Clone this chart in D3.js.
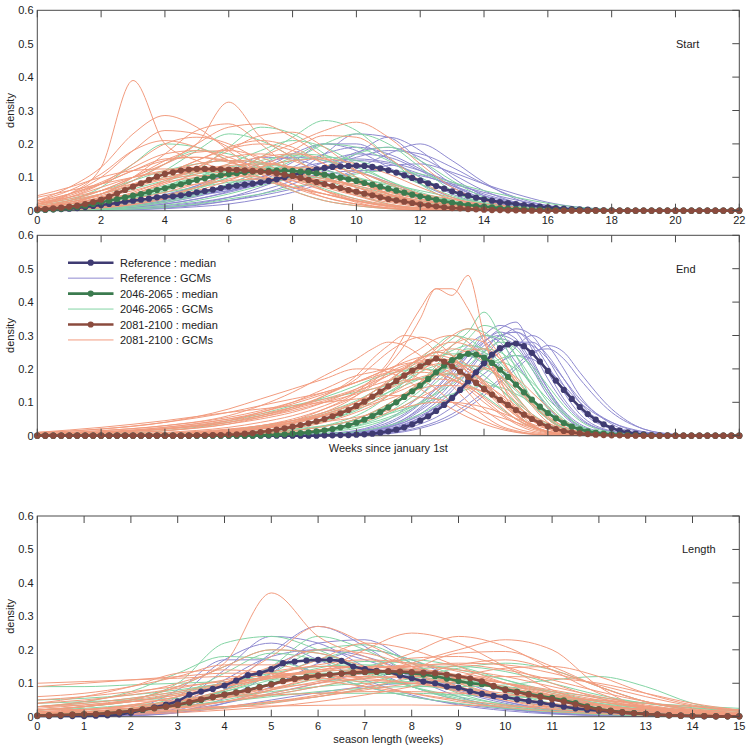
<!DOCTYPE html>
<html><head><meta charset="utf-8">
<script src="https://cdn.jsdelivr.net/npm/d3@7"></script>
<style>
body{margin:0;background:#fff}
svg{display:block}
text{font-family:"Liberation Sans",Arial,sans-serif;fill:#222}
</style>
</head><body>
<svg id="chart" width="750" height="748"></svg>
<script>
// ---------------- DATA ----------------
const yTicks = [0, 0.1, 0.2, 0.3, 0.4, 0.5, 0.6];
const yTickLabels = ["0", "0.1", "0.2", "0.3", "0.4", "0.5", "0.6"];
const startXTicks = [0, 2, 4, 6, 8, 10, 12, 14, 16, 18, 20, 22];
const lengthXTicks = [0, 1, 2, 3, 4, 5, 6, 7, 8, 9, 10, 11, 12, 13, 14, 15];
const seriesNames = ["Reference : median", "Reference : GCMs", "2046-2065 : median", "2046-2065 : GCMs", "2081-2100 : median", "2081-2100 : GCMs"];
const panelTitles = ["Start", "End", "Length"];
const medianStep = 0.25;

// GCM sample grids (weeks)
const gridStart = [0,1,2,3,4,5,6,7,8,9,10,11,12,13,14,15,16,17,18,19,20,21];
const gridEnd = [0,2,4,6,7,8,9,10,10.5,11,11.5,12,12.5,13,13.5,14,14.5,15,15.5,16,16.5,17,18,19,20,22];
const gridLength = [0,1,2,3,4,5,6,7,8,9,10,11,12,13,14,15];

// ---- Start: medians (every 0.25 week, 0..22)
const startRefMedian = [
0.002,0.003,0.004,0.005, 0.006,0.008,0.011,0.014, 0.017,0.02,0.023,0.027, 0.03,0.033,0.036,0.04,
0.042,0.043,0.046,0.05, 0.055,0.059,0.063,0.068, 0.072,0.075,0.078,0.081, 0.085,0.089,0.094,0.1,
0.106,0.113,0.119,0.124, 0.128,0.131,0.133,0.134, 0.135,0.134,0.131,0.127, 0.121,0.114,0.106,0.098,
0.09,0.082,0.074,0.066, 0.058,0.051,0.045,0.039, 0.034,0.03,0.026,0.023, 0.02,0.017,0.014,0.012,
0.01,0.008,0.006,0.005, 0.004,0.003,0.002,0.001, 0.001,0,0,0, 0,0,0,0, 0,0,0,0, 0,0,0,0, 0];
const startMidMedian = [
0.002,0.003,0.004,0.006, 0.008,0.011,0.015,0.02, 0.025,0.03,0.035,0.04, 0.045,0.05,0.056,0.062,
0.067,0.073,0.079,0.086, 0.092,0.097,0.102,0.106, 0.11,0.112,0.115,0.117, 0.118,0.119,0.12,0.12,
0.119,0.117,0.115,0.112, 0.108,0.104,0.099,0.094, 0.089,0.083,0.078,0.072, 0.066,0.06,0.054,0.048,
0.043,0.038,0.033,0.028, 0.024,0.02,0.017,0.014, 0.012,0.01,0.008,0.006, 0.005,0.004,0.003,0.003,
0.002,0.002,0.001,0.001, 0.001,0,0,0, 0,0,0,0, 0,0,0,0, 0,0,0,0, 0,0,0,0, 0];
const startEndMedian = [
0.004,0.005,0.007,0.009, 0.012,0.015,0.02,0.026, 0.033,0.042,0.052,0.062, 0.072,0.082,0.092,0.102,
0.11,0.115,0.12,0.123, 0.125,0.125,0.125,0.124, 0.123,0.122,0.121,0.119, 0.117,0.115,0.112,0.108,
0.104,0.098,0.092,0.086, 0.08,0.074,0.068,0.062, 0.057,0.051,0.046,0.04, 0.035,0.031,0.027,0.023,
0.019,0.016,0.013,0.01, 0.008,0.007,0.005,0.004, 0.003,0.002,0.002,0.001, 0.001,0,0,0,
0,0,0,0, 0,0,0,0, 0,0,0,0, 0,0,0,0, 0,0,0,0, 0,0,0,0, 0];

// ---- Start: GCMs (on gridStart)
const startRefGCMs = [
[0,0,0.002,0.006,0.012,0.022,0.04,0.07,0.11,0.17,0.23,0.22,0.15,0.08,0.035,0.012,0.003,0],
[0,0,0.002,0.004,0.008,0.016,0.03,0.05,0.08,0.12,0.17,0.22,0.18,0.1,0.045,0.015,0.004,0],
[0,0.002,0.006,0.014,0.028,0.05,0.08,0.12,0.17,0.2,0.18,0.13,0.08,0.04,0.016,0.005,0.001,0],
[0,0,0.003,0.008,0.015,0.025,0.04,0.06,0.09,0.13,0.175,0.19,0.16,0.11,0.06,0.025,0.008,0.002,0],
[0.002,0.006,0.014,0.028,0.048,0.075,0.11,0.14,0.16,0.15,0.12,0.085,0.05,0.025,0.01,0.003,0],
[0,0,0.001,0.003,0.006,0.012,0.02,0.035,0.055,0.085,0.125,0.17,0.2,0.15,0.085,0.035,0.01,0.002,0],
[0,0.005,0.012,0.025,0.045,0.075,0.115,0.16,0.155,0.125,0.09,0.06,0.035,0.018,0.008,0.002,0],
[0,0.004,0.01,0.02,0.035,0.05,0.065,0.08,0.095,0.11,0.12,0.12,0.105,0.08,0.055,0.032,0.015,0.005,0.001,0],
[0,0.001,0.004,0.01,0.02,0.035,0.055,0.08,0.11,0.145,0.17,0.16,0.12,0.07,0.03,0.01,0.003,0],
[0,0.002,0.005,0.012,0.024,0.042,0.068,0.1,0.145,0.2,0.2,0.155,0.1,0.05,0.02,0.006,0.001,0],
[0,0,0.002,0.005,0.01,0.018,0.03,0.045,0.065,0.09,0.115,0.135,0.14,0.115,0.08,0.05,0.025,0.01,0.003,0],
[0,0.005,0.015,0.03,0.045,0.05,0.06,0.08,0.1,0.13,0.15,0.14,0.11,0.075,0.045,0.022,0.008,0.002,0],
[0,0.002,0.006,0.015,0.03,0.05,0.075,0.1,0.125,0.145,0.155,0.145,0.12,0.085,0.05,0.025,0.01,0.003,0],
[0,0.003,0.008,0.018,0.03,0.045,0.06,0.08,0.105,0.13,0.16,0.18,0.17,0.13,0.08,0.04,0.015,0.004,0],
[0,0.001,0.004,0.01,0.02,0.035,0.058,0.09,0.13,0.17,0.19,0.17,0.125,0.075,0.035,0.012,0.003,0]
];
const startMidGCMs = [
[0,0.003,0.008,0.02,0.04,0.07,0.11,0.16,0.22,0.27,0.24,0.16,0.08,0.03,0.01,0.003,0],
[0,0.005,0.015,0.035,0.07,0.12,0.19,0.25,0.23,0.17,0.1,0.05,0.02,0.007,0.002,0],
[0.01,0.03,0.07,0.14,0.2,0.19,0.15,0.1,0.06,0.03,0.015,0.006,0.002,0],
[0.005,0.015,0.035,0.07,0.12,0.18,0.23,0.21,0.16,0.1,0.05,0.02,0.008,0.002,0],
[0,0.002,0.005,0.012,0.025,0.045,0.075,0.11,0.15,0.2,0.23,0.2,0.13,0.06,0.02,0.005,0.001,0],
[0.002,0.008,0.02,0.04,0.07,0.1,0.14,0.18,0.21,0.19,0.14,0.09,0.05,0.02,0.008,0.002,0],
[0.02,0.035,0.06,0.09,0.12,0.14,0.15,0.145,0.125,0.1,0.07,0.045,0.025,0.012,0.005,0.001,0],
[0,0,0.003,0.008,0.016,0.03,0.05,0.075,0.1,0.13,0.17,0.19,0.15,0.09,0.04,0.015,0.004,0],
[0,0.004,0.01,0.02,0.04,0.065,0.1,0.14,0.17,0.165,0.13,0.09,0.055,0.03,0.014,0.006,0.002,0],
[0.01,0.025,0.05,0.09,0.14,0.18,0.17,0.14,0.1,0.065,0.035,0.015,0.005,0.001,0],
[0.005,0.012,0.025,0.04,0.055,0.07,0.085,0.095,0.1,0.1,0.095,0.08,0.06,0.04,0.022,0.01,0.004,0.001,0],
[0,0.002,0.006,0.015,0.03,0.05,0.08,0.12,0.16,0.2,0.19,0.15,0.1,0.055,0.025,0.01,0.003,0],
[0.003,0.01,0.025,0.045,0.07,0.1,0.13,0.14,0.13,0.11,0.085,0.06,0.035,0.018,0.008,0.002,0],
[0,0,0.002,0.005,0.01,0.02,0.035,0.05,0.07,0.09,0.11,0.12,0.11,0.085,0.06,0.04,0.022,0.01,0.004,0],
[0.005,0.015,0.03,0.05,0.075,0.1,0.12,0.13,0.13,0.12,0.1,0.075,0.05,0.028,0.012,0.004,0.001,0],
[0.01,0.02,0.04,0.065,0.09,0.11,0.12,0.12,0.11,0.095,0.075,0.05,0.03,0.015,0.006,0.002,0],
[0,0.005,0.012,0.025,0.045,0.07,0.1,0.13,0.15,0.16,0.15,0.12,0.08,0.045,0.02,0.007,0.002,0],
[0.003,0.008,0.018,0.035,0.06,0.09,0.12,0.15,0.165,0.15,0.12,0.08,0.045,0.022,0.009,0.003,0],
[0.015,0.03,0.05,0.075,0.1,0.115,0.12,0.115,0.1,0.08,0.06,0.04,0.025,0.013,0.005,0.001,0]
];
const startEndGCMs = [
[0.02,0.05,0.13,0.39,0.2,0.15,0.12,0.1,0.07,0.05,0.03,0.015,0.008,0.004,0.002,0],
[0.01,0.03,0.06,0.1,0.15,0.2,0.325,0.22,0.16,0.1,0.06,0.03,0.015,0.006,0.002,0],
[0.03,0.07,0.13,0.23,0.285,0.25,0.18,0.11,0.06,0.03,0.015,0.006,0.002,0],
[0.01,0.02,0.05,0.09,0.14,0.2,0.25,0.26,0.22,0.16,0.1,0.05,0.02,0.008,0.003,0],
[0,0.005,0.01,0.02,0.04,0.07,0.11,0.16,0.2,0.24,0.265,0.22,0.14,0.07,0.03,0.01,0.003,0],
[0.02,0.05,0.1,0.18,0.24,0.23,0.19,0.13,0.08,0.04,0.02,0.008,0.003,0],
[0.015,0.04,0.08,0.14,0.2,0.22,0.2,0.15,0.1,0.06,0.03,0.012,0.004,0],
[0.01,0.02,0.04,0.07,0.11,0.15,0.185,0.2,0.18,0.14,0.09,0.05,0.02,0.008,0.002,0],
[0.005,0.01,0.025,0.05,0.08,0.11,0.14,0.16,0.17,0.155,0.12,0.08,0.045,0.02,0.008,0.002,0],
[0.04,0.06,0.08,0.1,0.115,0.12,0.12,0.115,0.1,0.08,0.06,0.04,0.022,0.01,0.004,0.001,0],
[0.02,0.035,0.06,0.1,0.14,0.175,0.18,0.16,0.12,0.08,0.045,0.02,0.008,0.002,0],
[0.03,0.06,0.11,0.18,0.21,0.19,0.15,0.11,0.07,0.04,0.02,0.008,0.002,0],
[0,0.003,0.008,0.018,0.035,0.06,0.09,0.13,0.18,0.225,0.22,0.16,0.09,0.04,0.015,0.004,0.001,0],
[0.01,0.025,0.05,0.08,0.11,0.14,0.15,0.145,0.13,0.1,0.07,0.045,0.025,0.012,0.005,0.001,0],
[0.025,0.05,0.08,0.12,0.155,0.16,0.145,0.12,0.09,0.06,0.035,0.018,0.007,0.002,0],
[0.005,0.012,0.025,0.05,0.085,0.13,0.18,0.225,0.235,0.19,0.12,0.06,0.025,0.008,0.002,0],
[0.045,0.07,0.1,0.12,0.125,0.12,0.11,0.09,0.07,0.05,0.03,0.015,0.006,0.002,0],
[0,0.005,0.012,0.025,0.045,0.07,0.095,0.115,0.13,0.13,0.115,0.085,0.05,0.025,0.01,0.003,0],
[0.01,0.02,0.035,0.05,0.065,0.08,0.09,0.095,0.095,0.09,0.08,0.065,0.05,0.035,0.02,0.01,0.004,0.001,0],
[0.01,0.025,0.05,0.1,0.17,0.24,0.26,0.2,0.12,0.06,0.025,0.008,0.002,0],
[0.02,0.04,0.07,0.1,0.12,0.13,0.13,0.12,0.1,0.075,0.05,0.03,0.015,0.006,0.002,0],
[0.01,0.02,0.04,0.06,0.085,0.1,0.11,0.11,0.105,0.09,0.07,0.05,0.03,0.015,0.006,0.002,0],
[0.005,0.015,0.03,0.055,0.09,0.13,0.16,0.17,0.15,0.11,0.07,0.04,0.018,0.007,0.002,0],
[0.03,0.05,0.085,0.13,0.17,0.18,0.16,0.12,0.08,0.05,0.028,0.014,0.006,0.002,0],
[0.015,0.03,0.05,0.075,0.1,0.12,0.135,0.14,0.13,0.11,0.085,0.06,0.035,0.017,0.007,0.002,0],
[0.005,0.01,0.02,0.035,0.055,0.08,0.105,0.13,0.15,0.155,0.14,0.11,0.07,0.035,0.014,0.004,0],
[0.02,0.045,0.08,0.12,0.15,0.16,0.15,0.13,0.1,0.07,0.045,0.025,0.012,0.005,0.001,0],
[0.01,0.025,0.045,0.07,0.095,0.115,0.125,0.125,0.115,0.095,0.075,0.055,0.035,0.02,0.009,0.003,0],
[0.025,0.04,0.06,0.08,0.095,0.105,0.105,0.1,0.09,0.075,0.06,0.045,0.03,0.017,0.008,0.003,0],
[0.008,0.02,0.04,0.07,0.11,0.15,0.19,0.21,0.19,0.14,0.09,0.05,0.022,0.008,0.002,0]
];

// ---- End: medians (every 0.25 week, 0..22)
const endRefMedian = [
0,0,0,0, 0,0,0,0, 0,0,0,0, 0,0,0,0, 0,0,0,0, 0,0,0,0, 0,0,0,0, 0,0,0,0, 0,0,0,0,
0.001,0.001,0.002,0.002, 0.003,0.004,0.006,0.009, 0.013,0.018,0.025,0.034, 0.045,0.058,0.074,0.092,
0.113,0.137,0.163,0.19, 0.217,0.243,0.262,0.273, 0.276,0.268,0.248,0.222, 0.194,0.165,0.137,0.11,
0.086,0.065,0.048,0.034, 0.023,0.015,0.01,0.006, 0.004,0.002,0.001,0.001, 0,0,0,0, 0,0,0,0, 0];
const endMidMedian = [
0,0,0,0, 0,0,0,0, 0,0,0,0, 0,0,0,0, 0,0,0,0, 0,0,0,0, 0,0,0,0,
0.001,0.002,0.003,0.004, 0.006,0.008,0.01,0.013, 0.016,0.02,0.025,0.031, 0.039,0.048,0.059,0.071,
0.085,0.1,0.116,0.133, 0.15,0.17,0.19,0.21, 0.226,0.238,0.245,0.243, 0.234,0.218,0.198,0.176,
0.153,0.13,0.108,0.087, 0.068,0.052,0.038,0.027, 0.019,0.013,0.009,0.006, 0.004,0.003,0.002,0.001,
0.001,0,0,0, 0,0,0,0, 0,0,0,0, 0];
const endEndMedian = [
0,0,0,0, 0,0,0,0, 0,0,0,0, 0,0,0,0, 0,0,0,0,
0.001,0.001,0.002,0.002, 0.003,0.004,0.006,0.008, 0.011,0.014,0.018,0.022, 0.027,0.032,0.037,0.043,
0.05,0.058,0.067,0.077, 0.089,0.102,0.117,0.132, 0.148,0.164,0.18,0.195, 0.208,0.22,0.231,0.222,
0.208,0.192,0.176,0.158, 0.14,0.123,0.107,0.092, 0.077,0.063,0.05,0.038, 0.028,0.02,0.014,0.01,
0.007,0.005,0.003,0.002, 0.001,0.001,0,0, 0,0,0,0, 0,0,0,0, 0,0,0,0, 0];

// ---- End: GCMs (on gridEnd)
const endRefGCMs = [
[0,0,0,0,0,0.001,0.003,0.008,0.014,0.025,0.045,0.075,0.11,0.16,0.22,0.28,0.32,0.34,0.26,0.17,0.1,0.05,0.012,0.002,0],
[0,0,0,0,0,0.001,0.002,0.005,0.009,0.016,0.03,0.05,0.08,0.12,0.17,0.23,0.29,0.32,0.3,0.23,0.15,0.08,0.02,0.003,0],
[0,0,0,0,0.001,0.002,0.005,0.012,0.02,0.035,0.06,0.095,0.14,0.19,0.24,0.28,0.31,0.29,0.22,0.14,0.075,0.035,0.007,0.001,0],
[0,0,0,0,0,0,0.001,0.003,0.006,0.011,0.02,0.035,0.055,0.085,0.12,0.165,0.215,0.265,0.3,0.27,0.2,0.12,0.035,0.006,0],
[0,0,0,0,0,0.001,0.003,0.008,0.015,0.028,0.05,0.085,0.13,0.18,0.24,0.3,0.33,0.31,0.23,0.14,0.07,0.03,0.005,0],
[0,0,0,0,0,0.001,0.003,0.007,0.012,0.02,0.035,0.055,0.085,0.12,0.16,0.21,0.25,0.28,0.27,0.23,0.17,0.11,0.04,0.01,0.002],
[0,0,0,0,0,0,0.001,0.002,0.004,0.008,0.015,0.026,0.042,0.065,0.095,0.13,0.17,0.21,0.25,0.26,0.23,0.17,0.07,0.02,0.004],
[0,0,0,0,0.001,0.003,0.007,0.016,0.028,0.048,0.08,0.12,0.17,0.22,0.27,0.3,0.28,0.22,0.15,0.085,0.04,0.016,0.003,0],
[0,0,0,0,0,0,0.002,0.005,0.01,0.018,0.032,0.055,0.09,0.135,0.19,0.25,0.3,0.31,0.27,0.19,0.11,0.055,0.012,0.002,0],
[0,0,0,0,0.001,0.002,0.005,0.01,0.016,0.026,0.04,0.06,0.085,0.115,0.15,0.185,0.22,0.24,0.23,0.2,0.15,0.1,0.04,0.012,0.002],
[0,0,0,0,0,0.001,0.004,0.01,0.018,0.03,0.05,0.08,0.12,0.17,0.22,0.27,0.29,0.27,0.2,0.12,0.06,0.025,0.004,0],
[0,0,0,0,0,0,0,0.001,0.003,0.006,0.012,0.022,0.036,0.056,0.085,0.12,0.16,0.2,0.24,0.27,0.25,0.19,0.08,0.02,0.003],
[0,0,0,0,0,0.001,0.003,0.008,0.014,0.024,0.04,0.065,0.1,0.145,0.2,0.255,0.3,0.31,0.28,0.21,0.13,0.065,0.014,0.002,0],
[0,0,0,0,0,0,0.002,0.005,0.009,0.016,0.028,0.046,0.072,0.11,0.155,0.205,0.25,0.28,0.28,0.24,0.17,0.1,0.025,0.004,0],
[0,0,0,0,0.001,0.002,0.006,0.014,0.024,0.04,0.065,0.1,0.145,0.195,0.245,0.285,0.3,0.28,0.21,0.13,0.065,0.028,0.005,0]
];
const endMidGCMs = [
[0,0,0,0.002,0.005,0.01,0.02,0.04,0.06,0.085,0.12,0.16,0.21,0.27,0.31,0.37,0.3,0.2,0.11,0.05,0.02,0.007,0.001,0],
[0,0,0.001,0.004,0.008,0.016,0.03,0.06,0.085,0.12,0.16,0.2,0.25,0.29,0.32,0.31,0.26,0.18,0.11,0.055,0.022,0.008,0.001,0],
[0,0,0.002,0.006,0.012,0.025,0.045,0.08,0.11,0.15,0.19,0.23,0.27,0.3,0.29,0.25,0.19,0.12,0.065,0.03,0.01,0.003,0],
[0,0,0,0.002,0.004,0.008,0.016,0.03,0.045,0.065,0.09,0.12,0.16,0.2,0.25,0.3,0.29,0.24,0.17,0.1,0.05,0.02,0.003,0],
[0,0.002,0.006,0.015,0.025,0.04,0.065,0.1,0.13,0.16,0.2,0.23,0.25,0.24,0.21,0.16,0.11,0.065,0.032,0.013,0.005,0.001,0],
[0,0,0,0.001,0.003,0.006,0.012,0.022,0.034,0.05,0.07,0.095,0.13,0.17,0.21,0.25,0.28,0.26,0.2,0.13,0.07,0.03,0.005,0],
[0,0,0.001,0.004,0.008,0.015,0.028,0.05,0.07,0.095,0.125,0.16,0.2,0.235,0.26,0.25,0.21,0.15,0.095,0.05,0.022,0.008,0.001,0],
[0.002,0.008,0.02,0.045,0.065,0.09,0.11,0.13,0.14,0.15,0.16,0.17,0.18,0.185,0.18,0.165,0.14,0.1,0.065,0.035,0.015,0.005,0.001,0],
[0,0,0,0,0.001,0.003,0.006,0.012,0.02,0.03,0.045,0.065,0.09,0.12,0.16,0.2,0.23,0.24,0.21,0.15,0.09,0.045,0.01,0.001,0],
[0,0,0.002,0.007,0.014,0.026,0.045,0.075,0.1,0.13,0.16,0.19,0.21,0.22,0.21,0.18,0.14,0.095,0.055,0.028,0.012,0.004,0],
[0,0,0,0.002,0.004,0.009,0.018,0.035,0.05,0.07,0.1,0.135,0.18,0.23,0.29,0.33,0.31,0.24,0.15,0.08,0.035,0.012,0.002,0],
[0.001,0.005,0.015,0.04,0.06,0.085,0.115,0.15,0.17,0.185,0.195,0.2,0.195,0.18,0.155,0.12,0.085,0.05,0.025,0.01,0.003,0],
[0,0,0,0.002,0.004,0.008,0.015,0.028,0.04,0.055,0.075,0.1,0.125,0.155,0.185,0.21,0.22,0.2,0.16,0.11,0.065,0.03,0.006,0],
[0,0,0.002,0.006,0.012,0.02,0.03,0.045,0.055,0.065,0.08,0.095,0.11,0.125,0.14,0.15,0.145,0.125,0.1,0.07,0.045,0.025,0.006,0.001,0],
[0,0,0.002,0.008,0.015,0.028,0.05,0.085,0.11,0.14,0.17,0.2,0.23,0.255,0.27,0.26,0.22,0.16,0.1,0.05,0.02,0.007,0.001,0],
[0,0.001,0.004,0.012,0.022,0.038,0.06,0.09,0.11,0.13,0.15,0.17,0.19,0.205,0.21,0.2,0.175,0.135,0.09,0.05,0.024,0.01,0.002,0],
[0,0,0.001,0.004,0.008,0.015,0.028,0.05,0.068,0.09,0.115,0.145,0.18,0.215,0.245,0.26,0.25,0.21,0.15,0.09,0.045,0.02,0.003,0],
[0,0.002,0.006,0.016,0.028,0.045,0.07,0.105,0.13,0.16,0.19,0.215,0.235,0.245,0.24,0.215,0.17,0.115,0.065,0.03,0.012,0.004,0]
];
const endEndGCMs = [
[0,0,0.002,0.01,0.02,0.04,0.07,0.12,0.16,0.21,0.27,0.35,0.44,0.42,0.48,0.3,0.15,0.07,0.03,0.012,0.005,0.002,0],
[0,0,0.003,0.012,0.025,0.045,0.08,0.13,0.17,0.22,0.3,0.38,0.44,0.44,0.38,0.28,0.17,0.08,0.035,0.012,0.004,0.001,0],
[0.003,0.01,0.02,0.04,0.06,0.085,0.12,0.17,0.21,0.25,0.28,0.295,0.28,0.24,0.19,0.14,0.09,0.05,0.025,0.01,0.004,0.001,0],
[0.005,0.015,0.03,0.06,0.09,0.13,0.18,0.23,0.26,0.28,0.27,0.24,0.2,0.15,0.1,0.06,0.03,0.015,0.006,0.002,0],
[0,0.002,0.006,0.018,0.03,0.05,0.08,0.12,0.15,0.19,0.23,0.26,0.29,0.3,0.28,0.23,0.16,0.1,0.05,0.022,0.008,0.003,0],
[0,0,0.002,0.006,0.012,0.022,0.04,0.07,0.09,0.12,0.15,0.19,0.23,0.27,0.29,0.28,0.23,0.16,0.1,0.05,0.02,0.008,0.001,0],
[0.008,0.02,0.04,0.07,0.09,0.11,0.13,0.16,0.175,0.19,0.2,0.2,0.19,0.17,0.14,0.1,0.065,0.035,0.015,0.006,0.002,0],
[0.005,0.012,0.025,0.05,0.065,0.085,0.11,0.14,0.16,0.18,0.2,0.22,0.23,0.225,0.2,0.16,0.11,0.065,0.03,0.012,0.004,0.001,0],
[0.002,0.008,0.02,0.045,0.07,0.1,0.14,0.18,0.19,0.2,0.19,0.17,0.14,0.1,0.07,0.045,0.025,0.012,0.005,0.002,0],
[0.002,0.006,0.015,0.035,0.055,0.08,0.12,0.18,0.23,0.27,0.3,0.29,0.25,0.19,0.13,0.08,0.045,0.022,0.01,0.004,0.001,0],
[0,0.003,0.008,0.02,0.03,0.045,0.06,0.08,0.095,0.11,0.125,0.14,0.15,0.15,0.145,0.13,0.11,0.085,0.06,0.038,0.02,0.01,0.002,0],
[0,0.002,0.005,0.015,0.025,0.04,0.065,0.1,0.13,0.16,0.2,0.23,0.25,0.24,0.21,0.16,0.11,0.065,0.03,0.012,0.004,0.001,0],
[0,0,0.001,0.004,0.008,0.015,0.028,0.05,0.07,0.095,0.125,0.16,0.2,0.235,0.255,0.26,0.23,0.17,0.11,0.06,0.028,0.012,0.002,0],
[0.01,0.025,0.045,0.07,0.08,0.09,0.1,0.11,0.115,0.12,0.12,0.115,0.11,0.1,0.085,0.07,0.055,0.04,0.025,0.014,0.006,0.002,0],
[0,0.001,0.004,0.012,0.02,0.035,0.06,0.09,0.12,0.15,0.18,0.2,0.215,0.22,0.2,0.165,0.12,0.08,0.045,0.02,0.008,0.002,0],
[0.004,0.01,0.022,0.045,0.06,0.08,0.105,0.135,0.15,0.165,0.18,0.19,0.185,0.17,0.145,0.115,0.08,0.05,0.028,0.013,0.005,0.001,0],
[0,0,0,0.002,0.005,0.01,0.02,0.035,0.05,0.07,0.09,0.115,0.14,0.165,0.185,0.2,0.2,0.175,0.13,0.085,0.045,0.02,0.004,0],
[0.01,0.02,0.04,0.08,0.11,0.14,0.17,0.2,0.2,0.19,0.17,0.14,0.11,0.08,0.055,0.035,0.02,0.01,0.004,0.001,0],
[0,0,0.002,0.008,0.015,0.028,0.05,0.085,0.11,0.14,0.18,0.22,0.26,0.3,0.32,0.3,0.24,0.16,0.09,0.04,0.015,0.005,0],
[0,0.002,0.006,0.015,0.022,0.03,0.042,0.055,0.065,0.075,0.085,0.095,0.1,0.1,0.095,0.085,0.07,0.052,0.035,0.02,0.01,0.004,0.001,0],
[0.002,0.006,0.015,0.035,0.05,0.07,0.1,0.14,0.165,0.19,0.21,0.225,0.23,0.22,0.19,0.15,0.1,0.06,0.03,0.012,0.004,0.001,0],
[0,0.003,0.01,0.025,0.04,0.06,0.09,0.13,0.155,0.18,0.205,0.23,0.25,0.26,0.25,0.22,0.17,0.11,0.06,0.028,0.01,0.003,0],
[0.006,0.015,0.03,0.055,0.075,0.1,0.13,0.16,0.18,0.2,0.22,0.235,0.24,0.23,0.2,0.155,0.105,0.06,0.03,0.012,0.004,0.001,0],
[0,0.002,0.006,0.018,0.03,0.045,0.07,0.1,0.12,0.14,0.16,0.175,0.185,0.185,0.175,0.155,0.125,0.09,0.055,0.028,0.012,0.004,0],
[0.003,0.01,0.025,0.05,0.07,0.095,0.125,0.16,0.18,0.2,0.215,0.22,0.21,0.185,0.15,0.11,0.07,0.04,0.02,0.008,0.003,0],
[0,0.001,0.004,0.012,0.022,0.038,0.062,0.1,0.13,0.165,0.2,0.235,0.265,0.28,0.27,0.235,0.18,0.12,0.065,0.03,0.011,0.003,0],
[0.004,0.01,0.02,0.04,0.055,0.075,0.1,0.125,0.14,0.155,0.165,0.17,0.17,0.165,0.15,0.13,0.1,0.07,0.045,0.025,0.012,0.005,0.001,0],
[0,0.002,0.005,0.015,0.025,0.04,0.06,0.085,0.1,0.12,0.14,0.16,0.18,0.2,0.21,0.205,0.18,0.14,0.095,0.055,0.027,0.011,0.002,0]
];

// ---- Length: medians (every 0.25 week, 0..15)
const lenRefMedian = [
0.002,0.002,0.002,0.002, 0.002,0.003,0.004,0.007, 0.012,0.02,0.028,0.036, 0.046,0.066,0.075,0.083,
0.093,0.108,0.124,0.13, 0.142,0.16,0.165,0.168, 0.17,0.17,0.167,0.15, 0.142,0.137,0.134,0.123,
0.115,0.105,0.1,0.09, 0.087,0.076,0.068,0.062, 0.059,0.052,0.047,0.042, 0.036,0.03,0.025,0.021,
0.018,0.015,0.012,0.01, 0.008,0.006,0.004,0.003, 0.002,0.001,0.001,0.001, 0.001];
const lenMidMedian = [
0.003,0.004,0.005,0.006, 0.007,0.008,0.01,0.013, 0.017,0.021,0.025,0.03, 0.035,0.042,0.05,0.058,
0.066,0.073,0.08,0.089, 0.098,0.107,0.114,0.119, 0.123,0.126,0.129,0.131, 0.133,0.134,0.134,0.133,
0.13,0.126,0.121,0.114, 0.107,0.1,0.097,0.09, 0.082,0.075,0.068,0.062, 0.056,0.049,0.041,0.031,
0.023,0.018,0.014,0.011, 0.008,0.006,0.004,0.003, 0.002,0.002,0.001,0.001, 0.001];
const lenEndMedian = [
0.003,0.004,0.005,0.006, 0.007,0.008,0.01,0.013, 0.017,0.022,0.026,0.03, 0.036,0.044,0.052,0.059,
0.066,0.072,0.079,0.088, 0.096,0.106,0.113,0.118, 0.123,0.126,0.129,0.132, 0.134,0.135,0.136,0.135,
0.133,0.132,0.13,0.126, 0.121,0.115,0.106,0.092, 0.08,0.073,0.066,0.059, 0.052,0.045,0.037,0.028,
0.021,0.017,0.013,0.01, 0.008,0.006,0.004,0.003, 0.002,0.002,0.001,0.001, 0.001];

// ---- Length: GCMs (on gridLength)
const lenRefGCMs = [
[0,0.001,0.004,0.02,0.08,0.19,0.27,0.21,0.12,0.06,0.025,0.01,0.004,0.001,0,0],
[0,0.002,0.008,0.04,0.14,0.24,0.22,0.15,0.09,0.05,0.025,0.011,0.004,0.001,0,0],
[0,0.001,0.003,0.012,0.04,0.09,0.16,0.2,0.17,0.11,0.06,0.028,0.011,0.004,0.001,0],
[0,0.002,0.01,0.06,0.17,0.22,0.17,0.11,0.065,0.035,0.018,0.008,0.003,0.001,0,0],
[0,0.001,0.003,0.015,0.055,0.13,0.22,0.23,0.16,0.09,0.045,0.02,0.008,0.003,0.001,0],
[0,0.002,0.006,0.018,0.04,0.07,0.1,0.13,0.14,0.12,0.085,0.05,0.025,0.01,0.004,0.001],
[0.001,0.004,0.02,0.08,0.17,0.17,0.13,0.09,0.06,0.038,0.022,0.012,0.006,0.002,0.001,0],
[0,0.001,0.005,0.025,0.08,0.15,0.2,0.17,0.12,0.075,0.04,0.018,0.007,0.002,0.001,0],
[0,0.001,0.004,0.012,0.028,0.05,0.072,0.09,0.1,0.1,0.085,0.06,0.035,0.017,0.007,0.002],
[0,0.002,0.008,0.035,0.11,0.18,0.2,0.18,0.13,0.08,0.045,0.022,0.01,0.004,0.001,0]
];
const lenMidGCMs = [
[0.02,0.03,0.05,0.1,0.22,0.24,0.2,0.14,0.09,0.05,0.028,0.015,0.008,0.004,0.002,0.001],
[0.01,0.015,0.02,0.03,0.045,0.06,0.075,0.085,0.09,0.09,0.095,0.11,0.12,0.09,0.04,0.015],
[0.005,0.01,0.02,0.04,0.08,0.15,0.24,0.2,0.13,0.07,0.035,0.016,0.007,0.003,0.001,0],
[0.02,0.03,0.05,0.09,0.15,0.2,0.19,0.14,0.09,0.055,0.032,0.018,0.01,0.006,0.003,0.002],
[0.09,0.09,0.095,0.1,0.105,0.11,0.11,0.105,0.095,0.08,0.065,0.05,0.035,0.022,0.013,0.007],
[0.005,0.01,0.018,0.03,0.05,0.08,0.115,0.15,0.17,0.15,0.11,0.07,0.04,0.02,0.01,0.005],
[0.01,0.015,0.025,0.045,0.075,0.12,0.17,0.2,0.17,0.12,0.075,0.04,0.02,0.01,0.005,0.002],
[0.01,0.014,0.02,0.03,0.045,0.065,0.09,0.115,0.14,0.15,0.135,0.1,0.065,0.04,0.025,0.018],
[0.04,0.045,0.05,0.055,0.06,0.065,0.07,0.07,0.07,0.065,0.06,0.055,0.048,0.04,0.032,0.025],
[0.03,0.045,0.075,0.13,0.18,0.17,0.13,0.09,0.06,0.04,0.025,0.015,0.009,0.005,0.003,0.002],
[0.005,0.007,0.011,0.018,0.028,0.042,0.06,0.085,0.115,0.145,0.16,0.14,0.09,0.045,0.02,0.01],
[0.01,0.015,0.025,0.045,0.08,0.13,0.2,0.215,0.16,0.1,0.055,0.028,0.013,0.006,0.003,0.001],
[0.02,0.025,0.035,0.045,0.06,0.075,0.09,0.1,0.105,0.1,0.09,0.075,0.058,0.04,0.027,0.018],
[0.005,0.01,0.025,0.06,0.13,0.19,0.17,0.13,0.09,0.06,0.037,0.022,0.013,0.007,0.004,0.002],
[0.02,0.03,0.045,0.07,0.1,0.13,0.15,0.155,0.14,0.115,0.085,0.055,0.033,0.018,0.01,0.006],
[0.03,0.04,0.055,0.075,0.1,0.12,0.13,0.13,0.12,0.105,0.085,0.065,0.045,0.03,0.02,0.013],
[0.008,0.014,0.025,0.045,0.075,0.11,0.145,0.165,0.16,0.14,0.11,0.075,0.045,0.025,0.013,0.007],
[0.05,0.055,0.065,0.08,0.1,0.12,0.135,0.14,0.13,0.11,0.085,0.06,0.04,0.025,0.015,0.009]
];
const lenEndGCMs = [
[0.03,0.045,0.07,0.1,0.16,0.37,0.24,0.18,0.13,0.09,0.06,0.035,0.02,0.01,0.005,0.002],
[0.01,0.015,0.02,0.03,0.045,0.065,0.09,0.12,0.16,0.2,0.23,0.2,0.09,0.025,0.01,0.005],
[0.1,0.105,0.11,0.115,0.12,0.12,0.115,0.11,0.1,0.085,0.07,0.05,0.035,0.02,0.012,0.006],
[0.09,0.1,0.11,0.12,0.13,0.13,0.125,0.115,0.1,0.08,0.06,0.04,0.025,0.014,0.007,0.003],
[0.005,0.01,0.02,0.045,0.1,0.18,0.27,0.22,0.15,0.09,0.05,0.025,0.012,0.005,0.002,0.001],
[0.005,0.008,0.014,0.025,0.045,0.08,0.13,0.2,0.25,0.22,0.15,0.08,0.035,0.013,0.005,0.002],
[0.008,0.012,0.018,0.028,0.045,0.07,0.1,0.14,0.19,0.24,0.21,0.14,0.07,0.03,0.012,0.005],
[0.01,0.015,0.025,0.045,0.08,0.12,0.17,0.22,0.2,0.15,0.1,0.06,0.03,0.013,0.005,0.002],
[0.03,0.035,0.045,0.05,0.06,0.065,0.07,0.075,0.075,0.07,0.065,0.06,0.05,0.04,0.03,0.02],
[0.02,0.03,0.05,0.09,0.15,0.2,0.19,0.15,0.11,0.075,0.05,0.03,0.018,0.01,0.005,0.002],
[0.01,0.015,0.025,0.04,0.06,0.085,0.115,0.145,0.175,0.18,0.15,0.1,0.055,0.025,0.01,0.004],
[0.06,0.07,0.09,0.12,0.155,0.155,0.13,0.1,0.07,0.045,0.028,0.016,0.009,0.005,0.002,0.001],
[0.004,0.006,0.01,0.016,0.025,0.04,0.06,0.085,0.12,0.155,0.17,0.14,0.09,0.045,0.02,0.01],
[0.02,0.03,0.045,0.065,0.09,0.115,0.14,0.15,0.14,0.12,0.09,0.06,0.035,0.018,0.008,0.003],
[0.015,0.02,0.03,0.045,0.065,0.085,0.1,0.115,0.12,0.115,0.1,0.08,0.055,0.032,0.016,0.007],
[0.04,0.06,0.09,0.13,0.14,0.13,0.11,0.09,0.07,0.05,0.035,0.022,0.013,0.007,0.003,0.001],
[0.002,0.004,0.007,0.012,0.02,0.03,0.045,0.065,0.09,0.12,0.145,0.15,0.12,0.07,0.035,0.02],
[0.005,0.008,0.012,0.02,0.03,0.045,0.065,0.095,0.14,0.19,0.195,0.15,0.09,0.045,0.02,0.008],
[0.01,0.02,0.035,0.06,0.1,0.15,0.2,0.19,0.15,0.1,0.06,0.035,0.018,0.008,0.003,0.001],
[0.005,0.008,0.012,0.02,0.03,0.045,0.06,0.08,0.1,0.115,0.12,0.115,0.1,0.07,0.04,0.02],
[0.03,0.04,0.055,0.075,0.1,0.12,0.135,0.14,0.135,0.12,0.1,0.075,0.05,0.03,0.016,0.008],
[0.02,0.03,0.045,0.065,0.09,0.115,0.135,0.15,0.15,0.14,0.12,0.09,0.06,0.035,0.018,0.009],
[0.05,0.06,0.075,0.09,0.105,0.115,0.12,0.12,0.115,0.1,0.085,0.065,0.045,0.028,0.016,0.009],
[0.01,0.02,0.035,0.06,0.09,0.125,0.155,0.17,0.16,0.135,0.1,0.065,0.038,0.02,0.009,0.004],
[0.015,0.022,0.032,0.048,0.07,0.095,0.12,0.14,0.155,0.155,0.14,0.11,0.075,0.045,0.024,0.012],
[0.04,0.05,0.065,0.085,0.11,0.135,0.15,0.15,0.135,0.11,0.08,0.055,0.033,0.018,0.009,0.004],
[0.007,0.012,0.02,0.035,0.055,0.08,0.105,0.13,0.15,0.16,0.155,0.13,0.095,0.06,0.032,0.016],
[0.025,0.035,0.05,0.07,0.095,0.12,0.14,0.15,0.145,0.125,0.1,0.07,0.045,0.025,0.013,0.006],
[0.02,0.022,0.025,0.028,0.03,0.032,0.034,0.035,0.035,0.034,0.032,0.03,0.027,0.024,0.02,0.017]
];

// ---------------- DRAWING ----------------
const colors = {
  refMed: "#3f3b72", midMed: "#3b7b4f", endMed: "#8b4b3e",
  refG: "#8f8ad0", midG: "#84d4a4", endG: "#f29c7f"
};
const svg = d3.select("#chart");
svg.append("rect").attr("width", 750).attr("height", 748).attr("fill", "#fff");

const LEFT = 37.3, RIGHT = 739.3;

const panels = [
  { id: "s", top: 10.3, bottom: 210.7, xmax: 22, xTicks: startXTicks, showXLabels: true, grid: gridStart,
    gcms: [startRefGCMs, startMidGCMs, startEndGCMs], medians: [startRefMedian, startMidMedian, startEndMedian],
    title: panelTitles[0], titleX: 676, xLabel: null },
  { id: "e", top: 235.3, bottom: 435.7, xmax: 22, xTicks: startXTicks, showXLabels: false, grid: gridEnd,
    gcms: [endRefGCMs, endMidGCMs, endEndGCMs], medians: [endRefMedian, endMidMedian, endEndMedian],
    title: panelTitles[1], titleX: 676, xLabel: "Weeks since january 1st", xLabelY: 451.5 },
  { id: "l", top: 516, bottom: 716.7, xmax: 15, xTicks: lengthXTicks, showXLabels: true, grid: gridLength,
    gcms: [lenRefGCMs, lenMidGCMs, lenEndGCMs], medians: [lenRefMedian, lenMidMedian, lenEndMedian],
    title: panelTitles[2], titleX: 682, xLabel: "season length (weeks)", xLabelY: 742.5 }
];

const gcmColors = [colors.refG, colors.midG, colors.endG];
const medColors = [colors.refMed, colors.midMed, colors.endMed];

panels.forEach(p => {
  const x = d3.scaleLinear().domain([0, p.xmax]).range([LEFT, RIGHT]);
  const y = d3.scaleLinear().domain([0, 0.6]).range([p.bottom, p.top]);
  const g = svg.append("g");

  const clipId = "clip-" + p.id;
  svg.append("clipPath").attr("id", clipId).append("rect")
    .attr("x", LEFT).attr("y", p.top).attr("width", RIGHT - LEFT).attr("height", p.bottom - p.top);

  const plot = g.append("g").attr("clip-path", `url(#${clipId})`);
  const gcmLine = d3.line()
    .x((d, i) => x(p.grid[i]))
    .y(d => y(d))
    .curve(d3.curveMonotoneX);

  p.gcms.forEach((set, k) => {
    plot.append("g").selectAll("path").data(set).enter().append("path")
      .attr("d", gcmLine)
      .attr("fill", "none")
      .attr("stroke", gcmColors[k])
      .attr("stroke-width", 1);
  });

  // frame
  g.append("rect").attr("x", LEFT).attr("y", p.top)
    .attr("width", RIGHT - LEFT).attr("height", p.bottom - p.top)
    .attr("fill", "none").attr("stroke", "#4a4a4a").attr("stroke-width", 1);

  // medians
  const medLine = d3.line().x((d, i) => x(i * medianStep)).y(d => y(d));
  p.medians.forEach((m, k) => {
    const mg = g.append("g");
    mg.append("path").datum(m).attr("d", medLine)
      .attr("fill", "none").attr("stroke", medColors[k]).attr("stroke-width", 2.6);
    mg.selectAll("circle").data(m).enter().append("circle")
      .attr("cx", (d, i) => x(i * medianStep)).attr("cy", d => y(d))
      .attr("r", 3.1).attr("fill", medColors[k]);
  });

  // ticks: top, bottom (inward), right (inward)
  const tk = g.append("g").attr("stroke", "#4a4a4a").attr("stroke-width", 1);
  p.xTicks.forEach(t => {
    tk.append("line").attr("x1", x(t)).attr("x2", x(t)).attr("y1", p.top).attr("y2", p.top + 7);
    tk.append("line").attr("x1", x(t)).attr("x2", x(t)).attr("y1", p.bottom).attr("y2", p.bottom - 7);
  });
  yTicks.forEach(t => {
    tk.append("line").attr("x1", RIGHT).attr("x2", RIGHT - 7).attr("y1", y(t)).attr("y2", y(t));
  });

  // y labels
  yTicks.forEach((t, i) => {
    g.append("text").attr("x", 33.5).attr("y", y(t) + 4)
      .attr("text-anchor", "end").attr("font-size", 11).text(yTickLabels[i]);
  });
  // x labels
  if (p.showXLabels) {
    p.xTicks.forEach(t => {
      g.append("text").attr("x", x(t)).attr("y", p.bottom + 13.5)
        .attr("text-anchor", "middle").attr("font-size", 11).text(String(t));
    });
  }
  // y axis title
  g.append("text").attr("transform", `translate(13.5,${(p.top + p.bottom) / 2}) rotate(-90)`)
    .attr("text-anchor", "middle").attr("font-size", 11).text("density");
  // panel title
  g.append("text").attr("x", p.titleX).attr("y", y(0.5) + 4).attr("font-size", 11).text(p.title);
  // x axis title
  if (p.xLabel) {
    g.append("text").attr("x", (LEFT + RIGHT) / 2).attr("y", p.xLabelY)
      .attr("text-anchor", "middle").attr("font-size", 11).text(p.xLabel);
  }
});

// legend (End panel)
const lg = svg.append("g");
const legendRows = [
  { type: "med", c: colors.refMed }, { type: "gcm", c: colors.refG },
  { type: "med", c: colors.midMed }, { type: "gcm", c: colors.midG },
  { type: "med", c: colors.endMed }, { type: "gcm", c: colors.endG }
];
legendRows.forEach((r, i) => {
  const yy = 262.7 + i * 15.45;
  lg.append("line").attr("x1", 68).attr("x2", 113.5).attr("y1", yy).attr("y2", yy)
    .attr("stroke", r.c).attr("stroke-width", r.type === "med" ? 2.6 : 1);
  if (r.type === "med") {
    lg.append("circle").attr("cx", 90.7).attr("cy", yy).attr("r", 3.1).attr("fill", r.c);
  }
  lg.append("text").attr("x", 120).attr("y", yy + 4).attr("font-size", 11).text(seriesNames[i]);
});
</script>
</body></html>
